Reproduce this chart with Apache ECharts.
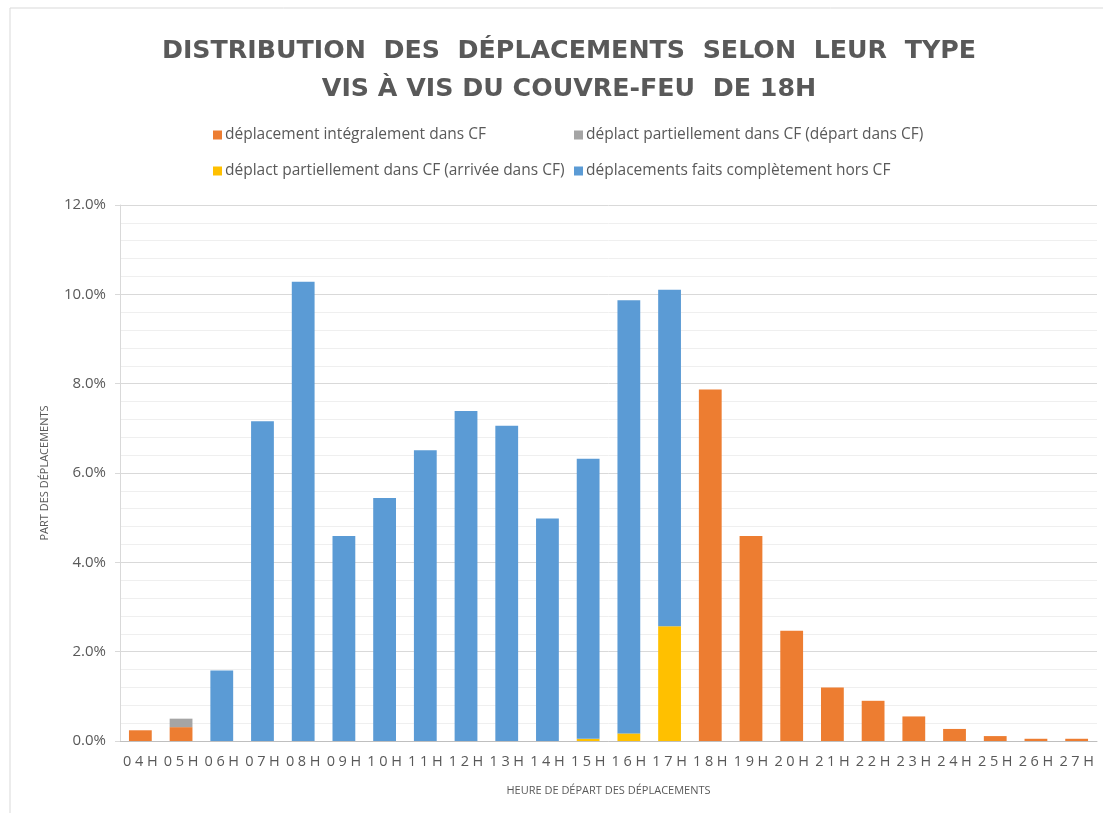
<!DOCTYPE html>
<html>
<head>
<meta charset="utf-8">
<script src="https://cdn.jsdelivr.net/npm/echarts@6/dist/echarts.min.js"></script>
<style>
  html, body { margin: 0; padding: 0; background: #fff; }
  #chart { width: 1103px; height: 813px; }
</style>
</head>
<body>
<div id="chart"></div>
<script>
// heures de départ
var heures = ['04H', '05H', '06H', '07H', '08H', '09H', '10H', '11H', '12H', '13H', '14H', '15H',
  '16H', '17H', '18H', '19H', '20H', '21H', '22H', '23H', '24H', '25H', '26H', '27H'];

// part des déplacements (%)
var integralementCF = [0.24, 0.31, 0, 0, 0, 0, 0, 0, 0, 0, 0, 0,
  0, 0, 7.87, 4.59, 2.47, 1.20, 0.90, 0.55, 0.27, 0.11, 0.05, 0.05];
var departCF = [0, 0.19, 0, 0, 0, 0, 0, 0, 0, 0, 0, 0,
  0, 0, 0, 0, 0, 0, 0, 0, 0, 0, 0, 0];
var arriveeCF = [0, 0, 0, 0, 0, 0, 0, 0, 0, 0, 0, 0.05,
  0.17, 2.57, 0, 0, 0, 0, 0, 0, 0, 0, 0, 0];
var horsCF = [0, 0, 1.58, 7.16, 10.28, 4.59, 5.44, 6.51, 7.39, 7.06, 4.98, 6.27,
  9.70, 7.53, 0, 0, 0, 0, 0, 0, 0, 0, 0, 0];

var yTicks = [0, 2, 4, 6, 8, 10, 12];

var noms = [
  'déplacement intégralement dans CF',
  'déplact partiellement dans CF (départ dans CF)',
  'déplact partiellement dans CF (arrivée dans CF)',
  'déplacements faits complètement hors CF'
];
var couleurs = ['#ED7D31', '#A5A5A5', '#FFC000', '#5B9BD5'];
var valeurs = [integralementCF, departCF, arriveeCF, horsCF];

var chartDom = document.getElementById('chart');
var myChart = echarts.init(chartDom);
var option;

var texte = '#595959';
var police = '"Open Sans", "Noto Sans", sans-serif';

option = {
  backgroundColor: '#fff',
  animation: false,
  color: couleurs,
  textStyle: { fontFamily: police },
  graphic: [{
    type: 'rect',
    shape: { x: 10, y: 8, width: 1100, height: 820 },
    style: { fill: 'none', stroke: '#d9d9d9', lineWidth: 1 },
    silent: true
  }],
  title: {
    text: 'DISTRIBUTION  DES  DÉPLACEMENTS  SELON  LEUR  TYPE\nVIS À VIS DU COUVRE-FEU  DE 18H',
    left: 564,
    textAlign: 'center',
    top: 27,
    textStyle: {
      fontFamily: '"DejaVu Sans", sans-serif',
      fontSize: 25.3,
      fontWeight: 'bold',
      color: texte,
      lineHeight: 38
    }
  },
  legend: [{
    left: 208,
    top: 122,
    orient: 'vertical',
    itemGap: 20,
    itemWidth: 9,
    itemHeight: 9,
    icon: 'rect',
    data: [noms[0], noms[2]],
    textStyle: { fontSize: 15.5, color: texte, fontFamily: police, padding: [0, 0, 0, -2] }
  }, {
    left: 569,
    top: 122,
    orient: 'vertical',
    itemGap: 20,
    itemWidth: 9,
    itemHeight: 9,
    icon: 'rect',
    data: [noms[1], noms[3]],
    textStyle: { fontSize: 15.5, color: texte, fontFamily: police, padding: [0, 0, 0, -2] }
  }],
  grid: { left: 120, right: 6, top: 205, bottom: 72, containLabel: false },
  xAxis: {
    type: 'category',
    data: heures,
    name: 'HEURE DE DÉPART DES DÉPLACEMENTS',
    nameLocation: 'middle',
    nameGap: 44,
    nameTextStyle: { fontSize: 11, color: texte },
    axisLine: { lineStyle: { color: '#bfbfbf' } },
    axisTick: { show: false },
    axisLabel: {
      interval: 0,
      color: texte,
      fontSize: 14.5,
      margin: 13,
      formatter: function (v) { return v.split('').join('\u2005'); }
    }
  },
  yAxis: {
    type: 'value',
    min: yTicks[0],
    max: yTicks[yTicks.length - 1],
    interval: 2,
    name: 'PART DES DÉPLACEMENTS',
    nameLocation: 'middle',
    nameGap: 70,
    nameTextStyle: { fontSize: 11, color: texte },
    axisLine: { show: true, lineStyle: { color: '#d9d9d9' } },
    axisTick: { show: true, length: 5, lineStyle: { color: '#d9d9d9' } },
    axisLabel: {
      color: texte,
      fontSize: 15,
      margin: 14,
      formatter: function (v) { return v.toFixed(1) + '%'; }
    },
    splitLine: { lineStyle: { color: '#d9d9d9', width: 1 } },
    minorTick: { show: false, splitNumber: 5 },
    minorSplitLine: { show: true, lineStyle: { color: '#efefef', width: 1 } }
  },
  series: noms.map(function (nom, i) {
    return {
      name: nom,
      type: 'bar',
      stack: 'total',
      barCategoryGap: '44%',
      data: valeurs[i],
      itemStyle: { color: couleurs[i] }
    };
  })
};

option && myChart.setOption(option);
</script>
</body>
</html>
